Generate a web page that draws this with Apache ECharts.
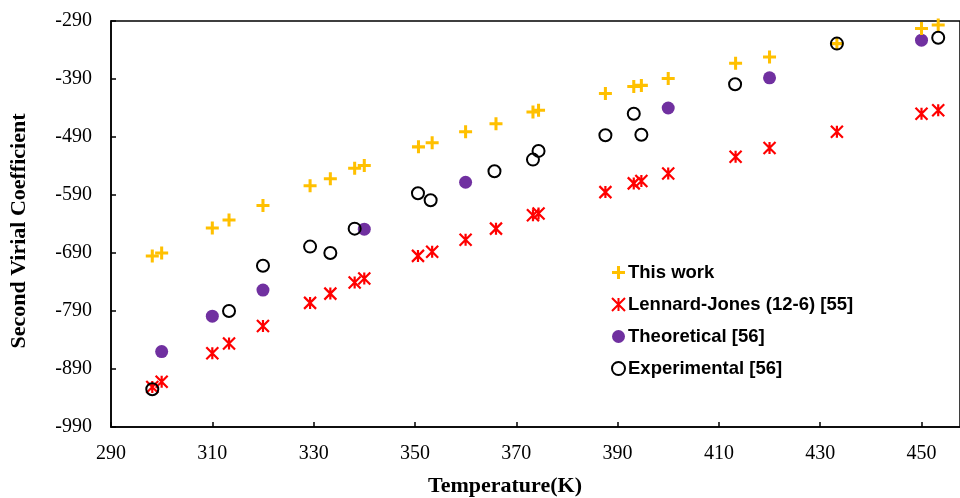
<!DOCTYPE html>
<html>
<head>
<meta charset="utf-8">
<script src="https://cdn.jsdelivr.net/npm/echarts@6/dist/echarts.min.js"></script>
<style>
  html, body { margin: 0; padding: 0; background: #fff; }
  #chart { width: 960px; height: 498px; }
</style>
</head>
<body>
<div id="chart"></div>
<script>
// Temperature (K) for each series
const tempThisWork = [298.15, 300, 310, 313.3, 320, 329.3, 333.3, 338.1, 340, 350.7, 353.4, 360, 366, 373.3, 374.4, 387.6, 393.2, 394.7, 400, 413.3, 420, 433.3, 450, 453.3];
const bThisWork = [-695, -690, -647, -633, -608, -574, -562, -544, -539, -507, -500, -481, -467, -447, -444, -415, -403, -401, -389, -363, -352, -329, -303, -297];

const tempLJ = [298.15, 300, 310, 313.3, 320, 329.3, 333.3, 338.1, 340, 350.6, 353.4, 360, 366, 373.3, 374.4, 387.6, 393.2, 394.7, 400, 413.3, 420, 433.3, 450, 453.3];
const bLJ = [-921, -912, -863, -846, -816, -776, -760, -741, -734, -695, -688, -667, -648, -625, -622, -585, -570, -566, -553, -524, -509, -481, -450, -444];

const tempTheo = [300, 310, 320, 340, 360, 400, 420, 450];
const bTheo = [-860, -799, -754, -649, -568, -440, -388, -323];

const tempExp = [298.15, 313.3, 320, 329.3, 333.3, 338.1, 350.6, 353.1, 365.7, 373.3, 374.4, 387.6, 393.2, 394.7, 413.2, 433.3, 453.3];
const bExp = [-925, -790, -712, -679, -690, -648, -587, -599, -549, -529, -514, -487, -450, -486, -399, -329, -319];

const xTicks = [290, 310, 330, 350, 370, 390, 410, 430, 450];
const yTicks = [-990, -890, -790, -690, -590, -490, -390, -290];

const seriesNames = ['This work', 'Lennard-Jones (12-6) [55]', 'Theoretical [56]', 'Experimental [56]'];

const pair = (xs, ys) => xs.map((x, i) => [x, ys[i]]);

const plusPath = 'path://M4.6,0 H7.4 V4.6 H12 V7.4 H7.4 V12 H4.6 V7.4 H0 V4.6 H4.6 Z';
const starPath = 'path://M0,0 L12,12 M12,0 L0,12 M6,0 L6,12';

const chart = echarts.init(document.getElementById('chart'));

const serif = 'Liberation Serif';
const option = {
  backgroundColor: '#fff',
  animation: false,
  grid: {
    left: 111,
    top: 21,
    right: 0,
    bottom: 71,
    show: true,
    borderColor: '#000',
    borderWidth: 1.5,
    backgroundColor: 'transparent'
  },
  xAxis: {
    type: 'value',
    min: 290,
    max: 457.6,
    splitLine: { show: false },
    axisLine: { lineStyle: { color: '#000', width: 1.5 } },
    axisTick: { inside: true, length: 5, customValues: xTicks, lineStyle: { color: '#000', width: 1.5 } },
    axisLabel: {
      customValues: xTicks,
      color: '#000',
      fontFamily: serif,
      fontSize: 20,
      margin: 17
    }
  },
  yAxis: {
    type: 'value',
    min: -990,
    max: -290,
    name: 'Second Virial Coefficient',
    nameLocation: 'middle',
    nameGap: 81,
    nameTextStyle: { color: '#000', fontFamily: serif, fontSize: 22, fontWeight: 'bold', padding: [0, 14, 0, 0] },
    splitLine: { show: false },
    axisLine: { show: true, lineStyle: { color: '#000', width: 1.5 } },
    axisTick: { show: true, inside: true, length: 5, customValues: yTicks, lineStyle: { color: '#000', width: 1.5 } },
    axisLabel: {
      customValues: yTicks,
      color: '#000',
      fontFamily: serif,
      fontSize: 20,
      margin: 19
    }
  },
  graphic: [{
    type: 'text',
    left: 428,
    top: 475,
    style: {
      text: 'Temperature(K)',
      fill: '#000',
      font: 'bold 22px "Liberation Serif"'
    }
  }],
  legend: {
    orient: 'vertical',
    left: 611,
    top: 263,
    itemWidth: 13,
    itemHeight: 13,
    itemGap: 13,
    padding: 0,
    textStyle: {
      color: '#000',
      fontFamily: 'Liberation Sans',
      fontWeight: 'bold',
      fontSize: 18.5,
      lineHeight: 19,
      padding: [0, 0, 0, -2]
    },
    data: seriesNames
  },
  series: [
    {
      name: seriesNames[0],
      type: 'scatter',
      symbol: plusPath,
      symbolSize: 13,
      itemStyle: { color: '#FFC000', opacity: 1 },
      data: pair(tempThisWork, bThisWork),
      z: 4
    },
    {
      name: seriesNames[1],
      type: 'scatter',
      symbol: starPath,
      symbolSize: 12,
      itemStyle: { color: '#FF0000', borderColor: '#FF0000', borderWidth: 2.2, opacity: 1 },
      data: pair(tempLJ, bLJ),
      z: 3
    },
    {
      name: seriesNames[2],
      type: 'scatter',
      symbol: 'circle',
      symbolSize: 13,
      itemStyle: { color: '#7030A0', opacity: 1 },
      data: pair(tempTheo, bTheo),
      z: 2
    },
    {
      name: seriesNames[3],
      type: 'scatter',
      symbol: 'circle',
      symbolSize: 12,
      itemStyle: { color: 'rgba(0,0,0,0)', borderColor: '#000', borderWidth: 2, opacity: 1 },
      data: pair(tempExp, bExp),
      z: 5
    }
  ]
};

chart.setOption(option);
</script>
</body>
</html>
